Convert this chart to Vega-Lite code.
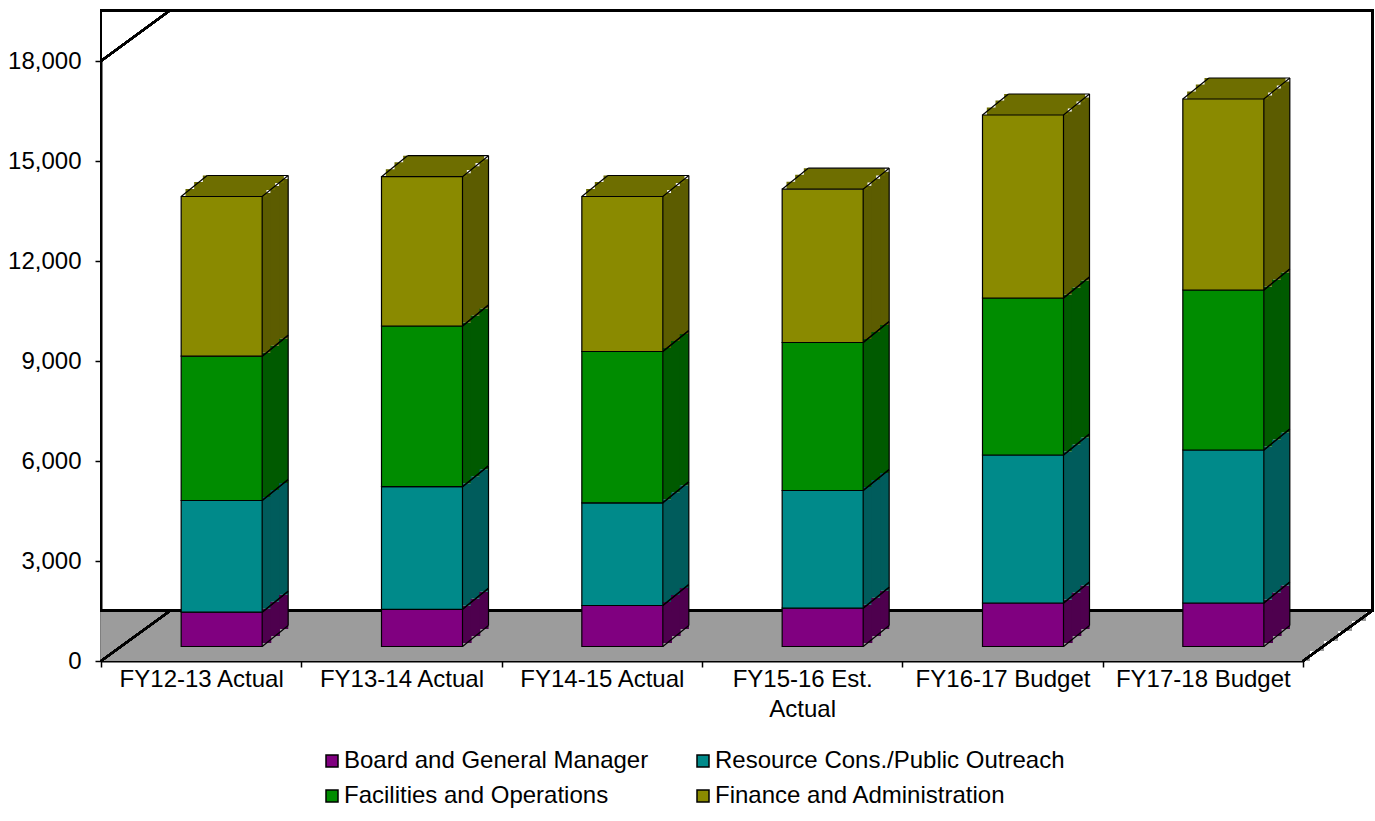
{
  "$schema": "https://vega.github.io/schema/vega-lite/v6.json",
  "width": 1202,
  "height": 600,
  "autosize": "none",
  "padding": {"left": 101, "top": 61, "right": 72, "bottom": 160},
  "config": {
    "view": {"stroke": null},
    "font": "Liberation Sans",
    "axis": {"labelFont": "Liberation Sans", "labelFontSize": 24, "labelColor": "black", "domainColor": "black", "tickColor": "black", "domainWidth": 2, "tickWidth": 1.5, "grid": false}
  },
  "data": {
    "values": [
      {"period": "FY12-13 Actual", "series": "Board and General Manager", "value": 1030},
      {"period": "FY12-13 Actual", "series": "Resource Cons./Public Outreach", "value": 3350},
      {"period": "FY12-13 Actual", "series": "Facilities and Operations", "value": 4330},
      {"period": "FY12-13 Actual", "series": "Finance and Administration", "value": 4790},
      {"period": "FY13-14 Actual", "series": "Board and General Manager", "value": 1115},
      {"period": "FY13-14 Actual", "series": "Resource Cons./Public Outreach", "value": 3680},
      {"period": "FY13-14 Actual", "series": "Facilities and Operations", "value": 4820},
      {"period": "FY13-14 Actual", "series": "Finance and Administration", "value": 4480},
      {"period": "FY14-15 Actual", "series": "Board and General Manager", "value": 1230},
      {"period": "FY14-15 Actual", "series": "Resource Cons./Public Outreach", "value": 3080},
      {"period": "FY14-15 Actual", "series": "Facilities and Operations", "value": 4540},
      {"period": "FY14-15 Actual", "series": "Finance and Administration", "value": 4650},
      {"period": "FY15-16 Est. Actual", "series": "Board and General Manager", "value": 1150},
      {"period": "FY15-16 Est. Actual", "series": "Resource Cons./Public Outreach", "value": 3530},
      {"period": "FY15-16 Est. Actual", "series": "Facilities and Operations", "value": 4440},
      {"period": "FY15-16 Est. Actual", "series": "Finance and Administration", "value": 4600},
      {"period": "FY16-17 Budget", "series": "Board and General Manager", "value": 1305},
      {"period": "FY16-17 Budget", "series": "Resource Cons./Public Outreach", "value": 4440},
      {"period": "FY16-17 Budget", "series": "Facilities and Operations", "value": 4710},
      {"period": "FY16-17 Budget", "series": "Finance and Administration", "value": 5490},
      {"period": "FY17-18 Budget", "series": "Board and General Manager", "value": 1305},
      {"period": "FY17-18 Budget", "series": "Resource Cons./Public Outreach", "value": 4590},
      {"period": "FY17-18 Budget", "series": "Facilities and Operations", "value": 4800},
      {"period": "FY17-18 Budget", "series": "Finance and Administration", "value": 5730}
    ]
  },
  "transform": [{"stack": "value", "groupby": ["period"], "as": ["v0", "v1"]}],
  "resolve": {"scale": {"color": "independent"}},
  "layer": [
    {
      "mark": {"type": "rect", "fill": "#9c9c9c", "xOffset": 7, "x2Offset": 7, "yOffset": 0, "y2Offset": -10.1},
      "encoding": {"y": {"datum": 0, "type": "quantitative", "title": null}, "y2": {"datum": 0}}
    },
    {
      "mark": {"type": "rect", "fill": "#9c9c9c", "xOffset": 20.85, "x2Offset": 20.85, "yOffset": -10.1, "y2Offset": -20.2},
      "encoding": {"y": {"datum": 0, "type": "quantitative", "title": null}, "y2": {"datum": 0}}
    },
    {
      "mark": {"type": "rect", "fill": "#9c9c9c", "xOffset": 34.75, "x2Offset": 34.75, "yOffset": -20.2, "y2Offset": -30.3},
      "encoding": {"y": {"datum": 0, "type": "quantitative", "title": null}, "y2": {"datum": 0}}
    },
    {
      "mark": {"type": "rect", "fill": "#9c9c9c", "xOffset": 48.65, "x2Offset": 48.65, "yOffset": -30.3, "y2Offset": -40.4},
      "encoding": {"y": {"datum": 0, "type": "quantitative", "title": null}, "y2": {"datum": 0}}
    },
    {
      "mark": {"type": "rect", "fill": "#9c9c9c", "xOffset": 62.55, "x2Offset": 62.55, "yOffset": -40.4, "y2Offset": -50.5},
      "encoding": {"y": {"datum": 0, "type": "quantitative", "title": null}, "y2": {"datum": 0}}
    },
    {
      "mark": {"type": "rect", "fill": "transparent", "stroke": "black", "strokeWidth": 2, "xOffset": 69.5, "x2Offset": 69.5, "yOffset": -50.5, "y2Offset": -50.5},
      "encoding": {"y": {"datum": 0, "type": "quantitative", "title": null}, "y2": {"datum": 18000}}
    },
    {
      "mark": {"type": "rule", "stroke": "black", "strokeWidth": 2, "x2Offset": -30.67, "y2Offset": -50.5},
      "encoding": {
        "x": {"datum": "FY12-13 Actual", "type": "nominal", "bandPosition": 0},
        "x2": {"datum": "FY12-13 Actual"},
        "y": {"datum": 0, "type": "quantitative", "title": null},
        "y2": {"datum": 0}
      }
    },
    {
      "mark": {"type": "rule", "stroke": "black", "strokeWidth": 2, "x2Offset": -30.67, "y2Offset": -51},
      "encoding": {
        "x": {"datum": "FY12-13 Actual", "type": "nominal", "bandPosition": 0},
        "x2": {"datum": "FY12-13 Actual"},
        "y": {"datum": 18000, "type": "quantitative", "title": null},
        "y2": {"datum": 18000}
      }
    },
    {
      "mark": {"type": "rule", "stroke": "black", "strokeWidth": 2, "x2Offset": 169.7, "y2Offset": -50.5},
      "encoding": {
        "x": {"datum": "FY17-18 Budget", "type": "nominal", "bandPosition": 1},
        "x2": {"datum": "FY17-18 Budget"},
        "y": {"datum": 0, "type": "quantitative", "title": null},
        "y2": {"datum": 0}
      }
    },
    {
      "mark": {"type": "bar", "width": 9.6, "xOffset": 65.33, "yOffset": -18, "y2Offset": -18},
      "encoding": {
        "x": {"field": "period", "type": "nominal"},
        "y": {"field": "v1", "type": "quantitative", "title": null},
        "y2": {"field": "v0"},
        "color": {"field": "series", "type": "nominal", "legend": null,
          "scale": {"domain": ["Board and General Manager", "Resource Cons./Public Outreach", "Facilities and Operations", "Finance and Administration"],
                    "range": ["#4e004e", "#005c5c", "#005a00", "#5c5c00"]}}
      }
    },
    {
      "mark": {"type": "bar", "width": 9.6, "xOffset": 74, "yOffset": -25, "y2Offset": -25},
      "encoding": {
        "x": {"field": "period", "type": "nominal"},
        "y": {"field": "v1", "type": "quantitative", "title": null},
        "y2": {"field": "v0"},
        "color": {"field": "series", "type": "nominal", "legend": null,
          "scale": {"domain": ["Board and General Manager", "Resource Cons./Public Outreach", "Facilities and Operations", "Finance and Administration"],
                    "range": ["#4e004e", "#005c5c", "#005a00", "#5c5c00"]}}
      }
    },
    {
      "mark": {"type": "bar", "width": 9.2, "xOffset": 82.5, "yOffset": -32, "y2Offset": -32},
      "encoding": {
        "x": {"field": "period", "type": "nominal"},
        "y": {"field": "v1", "type": "quantitative", "title": null},
        "y2": {"field": "v0"},
        "color": {"field": "series", "type": "nominal", "legend": null,
          "scale": {"domain": ["Board and General Manager", "Resource Cons./Public Outreach", "Facilities and Operations", "Finance and Administration"],
                    "range": ["#4e004e", "#005c5c", "#005a00", "#5c5c00"]}}
      }
    },
    {
      "transform": [{"filter": "datum.series == 'Finance and Administration'"}],
      "mark": {"type": "bar", "width": 81, "xOffset": 24.83, "yOffset": -14.5, "y2Offset": -21.9, "fill": "#6e6e00"},
      "encoding": {
        "x": {"field": "period", "type": "nominal"},
        "y": {"field": "v1", "type": "quantitative", "title": null},
        "y2": {"field": "v1"}
      }
    },
    {
      "transform": [{"filter": "datum.series == 'Finance and Administration'"}],
      "mark": {"type": "bar", "width": 81, "xOffset": 33.5, "yOffset": -21.1, "y2Offset": -28.9, "fill": "#6e6e00"},
      "encoding": {
        "x": {"field": "period", "type": "nominal"},
        "y": {"field": "v1", "type": "quantitative", "title": null},
        "y2": {"field": "v1"}
      }
    },
    {
      "transform": [{"filter": "datum.series == 'Finance and Administration'"}],
      "mark": {"type": "bar", "width": 81, "xOffset": 42.17, "yOffset": -28.1, "y2Offset": -35.5, "fill": "#6e6e00"},
      "encoding": {
        "x": {"field": "period", "type": "nominal"},
        "y": {"field": "v1", "type": "quantitative", "title": null},
        "y2": {"field": "v1"}
      }
    },
    {
      "mark": {"type": "rule", "stroke": "black", "strokeWidth": 1.2, "xOffset": 61, "x2Offset": 87, "yOffset": -14.5, "y2Offset": -35.5},
      "encoding": {
        "x": {"field": "period", "type": "nominal"},
        "x2": {"field": "period"},
        "y": {"field": "v1", "type": "quantitative", "title": null},
        "y2": {"field": "v1"}
      }
    },
    {
      "mark": {"type": "rule", "stroke": "black", "strokeWidth": 1.2, "xOffset": 61, "x2Offset": 87, "yOffset": -14.5, "y2Offset": -35.5},
      "encoding": {
        "x": {"field": "period", "type": "nominal"},
        "x2": {"field": "period"},
        "y": {"field": "v0", "type": "quantitative", "title": null},
        "y2": {"field": "v0"}
      }
    },
    {
      "mark": {"type": "rule", "stroke": "black", "strokeWidth": 1.2, "xOffset": 87, "yOffset": -35.5, "y2Offset": -35.5},
      "encoding": {
        "x": {"field": "period", "type": "nominal"},
        "y": {"field": "v1", "type": "quantitative", "title": null},
        "y2": {"field": "v0"}
      }
    },
    {
      "transform": [{"filter": "datum.series == 'Finance and Administration'"}],
      "mark": {"type": "rule", "stroke": "black", "strokeWidth": 1.2, "xOffset": -20, "x2Offset": 6, "yOffset": -14.5, "y2Offset": -35.5},
      "encoding": {
        "x": {"field": "period", "type": "nominal"},
        "x2": {"field": "period"},
        "y": {"field": "v1", "type": "quantitative", "title": null},
        "y2": {"field": "v1"}
      }
    },
    {
      "transform": [{"filter": "datum.series == 'Finance and Administration'"}],
      "mark": {"type": "rule", "stroke": "black", "strokeWidth": 1.2, "xOffset": 6, "x2Offset": 87, "yOffset": -35.5, "y2Offset": -35.5},
      "encoding": {
        "x": {"field": "period", "type": "nominal"},
        "x2": {"field": "period"},
        "y": {"field": "v1", "type": "quantitative", "title": null},
        "y2": {"field": "v1"}
      }
    },
    {
      "mark": {"type": "bar", "width": 81, "xOffset": 20.5, "yOffset": -14.5, "y2Offset": -14.5, "stroke": "black", "strokeWidth": 1.2},
      "encoding": {
        "x": {
          "field": "period", "type": "nominal", "title": null,
          "sort": ["FY12-13 Actual", "FY13-14 Actual", "FY14-15 Actual", "FY15-16 Est. Actual", "FY16-17 Budget", "FY17-18 Budget"],
          "scale": {"paddingInner": 0, "paddingOuter": 0},
          "axis": {"labelAngle": 0, "labelAlign": "center", "tickBand": "extent", "labelOffset": 0, "tickSize": 6, "labelPadding": 12, "labelLineHeight": 30, "labelLimit": 400,
                   "labelExpr": "datum.value == 'FY15-16 Est. Actual' ? ['FY15-16 Est.', 'Actual'] : datum.value"}
        },
        "y": {
          "field": "v1", "type": "quantitative", "title": null,
          "scale": {"domain": [0, 18000], "nice": false},
          "axis": {"values": [0, 3000, 6000, 9000, 12000, 15000, 18000], "format": ",d", "tickSize": 6, "labelPadding": 14}
        },
        "y2": {"field": "v0"},
        "color": {
          "field": "series", "type": "nominal",
          "scale": {"domain": ["Board and General Manager", "Resource Cons./Public Outreach", "Facilities and Operations", "Finance and Administration"],
                    "range": ["#800080", "#008a8a", "#008c00", "#8a8a00"]},
          "legend": {"title": null, "orient": "none", "legendX": 219, "legendY": 688, "columns": 2, "direction": "horizontal",
                     "labelFontSize": 24, "labelFont": "Liberation Sans", "labelColor": "black", "labelLimit": 500,
                     "symbolType": "square", "symbolSize": 144, "symbolStrokeColor": "black", "symbolStrokeWidth": 1.5,
                     "columnPadding": 42, "rowPadding": 11, "labelOffset": 0, "padding": 0}
        }
      }
    }
  ]
}
